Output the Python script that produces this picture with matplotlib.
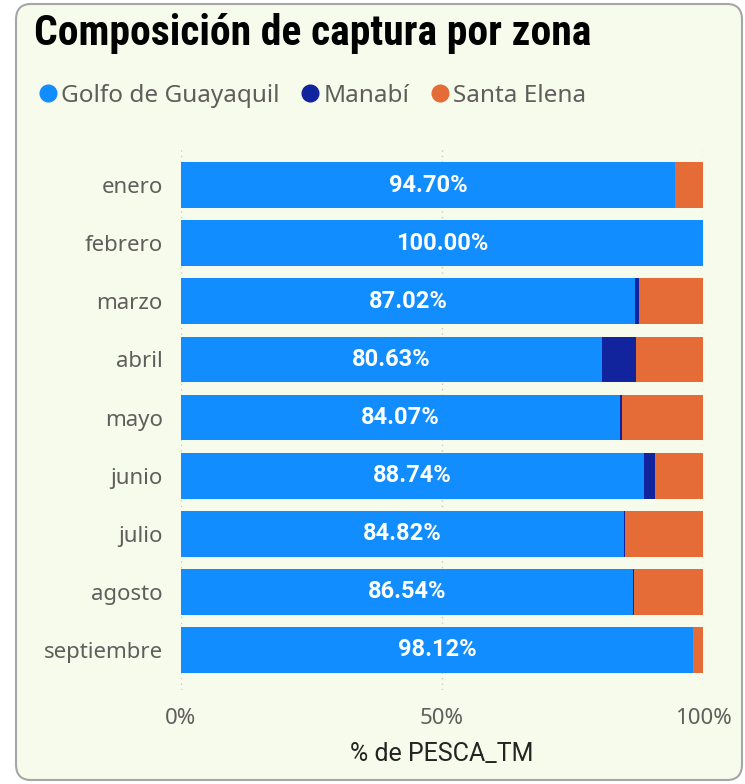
import matplotlib.pyplot as plt
from matplotlib.patches import FancyBboxPatch
from matplotlib.lines import Line2D
import numpy as np

# datos (porcentaje de PESCA_TM por zona)
meses = ["enero", "febrero", "marzo", "abril", "mayo", "junio", "julio", "agosto", "septiembre"]
golfo = [94.70, 100.00, 87.02, 80.63, 84.07, 88.74, 84.82, 86.54, 98.12]
manabi = [0.00, 0.00, 0.80, 6.50, 0.40, 2.10, 0.20, 0.20, 0.00]
santa_elena = [5.30, 0.00, 12.18, 12.87, 15.53, 9.16, 14.98, 13.26, 1.88]
series = ["Golfo de Guayaquil", "Manabí", "Santa Elena"]
colores = ["#118DFF", "#12239E", "#E66C37"]
xticks = [0, 50, 100]
xtick_labels = ["0%", "50%", "100%"]

bg = "#F7FBEC"
plt.rcParams['font.family'] = ['Noto Sans', 'DejaVu Sans']

fig = plt.figure(figsize=(7.45, 7.84), dpi=100)
fig.patch.set_facecolor("white")

# marco redondeado
marco = FancyBboxPatch((16 / 745, 4 / 784), 726 / 745, 776 / 784,
                       boxstyle="round,pad=0,rounding_size=0.02",
                       transform=fig.transFigure, facecolor=bg,
                       edgecolor="#A6A6A6", linewidth=1.5, zorder=-10)
fig.patches.append(marco)

ax = fig.add_axes([181 / 745, 1 - 690 / 784, 522 / 745, 542 / 784])
ax.set_facecolor("none")
ax.set_zorder(5)

y = np.arange(len(meses))
izq = np.zeros(len(meses))
for nombre, vals, col in zip(series, [golfo, manabi, santa_elena], colores):
    ax.barh(y, vals, left=izq, height=0.79, color=col, label=nombre, zorder=2)
    izq = izq + np.array(vals)

# etiquetas de datos dentro de la barra principal
for i, v in enumerate(golfo):
    ax.text(v / 2, y[i], f"{v:.2f}%", ha="center", va="center",
            color="white", fontsize=17, fontweight="bold", zorder=3,
            family=["Roboto", "DejaVu Sans"])

ax.set_ylim(8.69, -0.64)
ax.set_xlim(0, 100)
ax.set_yticks(y)
ax.set_yticklabels(meses, fontsize=16, color="#605E5C")
ax.set_xticks(xticks)
ax.set_xticklabels(xtick_labels, fontsize=16, color="#605E5C")
ax.tick_params(length=0)
ax.tick_params(axis="y", pad=13)
ax.tick_params(axis="x", pad=13)
for s in ax.spines.values():
    s.set_visible(False)
ax.grid(axis="x", color="#C8C8C8", linestyle=(0, (1, 3)), linewidth=1, zorder=1)
ax.set_xlabel("% de PESCA_TM", fontsize=18, color="#252423", labelpad=9,
              fontweight="normal", family=["Roboto", "DejaVu Sans"])

fig.text(34 / 745, 1 - 34 / 784, "Composición de captura por zona", fontsize=30,
         fontweight="bold", color="black", va="center", ha="left",
         family=["Roboto Condensed", "Roboto", "DejaVu Sans"])

handles = [Line2D([0], [0], marker="o", linestyle="none", markersize=12,
                  markerfacecolor=c, markeredgecolor=c) for c in colores]
fig.legend(handles, series, loc="center left", bbox_to_anchor=(14 / 745, 1 - 96 / 784),
           ncol=3, frameon=False, fontsize=17.5, handletextpad=-0.45,
           columnspacing=0.25, labelcolor="#605E5C", borderaxespad=0)

fig.savefig("out.png", dpi=100, facecolor=fig.get_facecolor())
